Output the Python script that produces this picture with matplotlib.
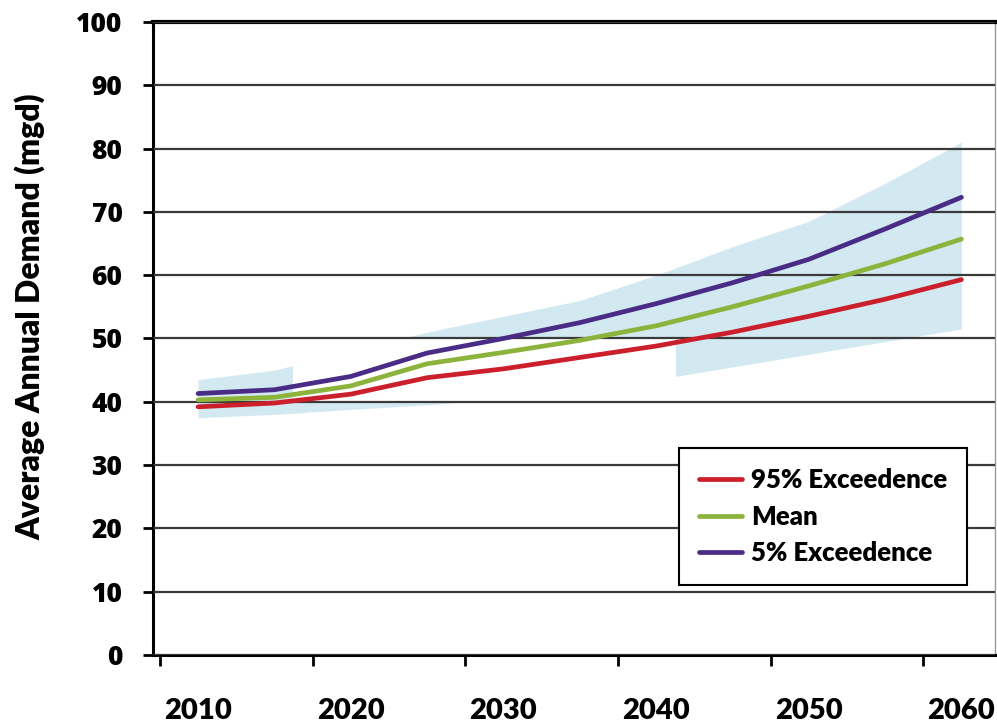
import matplotlib.pyplot as plt

# Projected average annual demand (mgd)
years = [2010, 2015, 2020, 2025, 2030, 2035, 2040, 2045, 2050, 2055, 2060]
exc95 = [39.2, 39.8, 41.2, 43.8, 45.2, 47.0, 48.8, 51.0, 53.5, 56.2, 59.3]
mean = [40.3, 40.7, 42.5, 46.0, 47.8, 49.7, 52.0, 55.0, 58.3, 61.8, 65.7]
exc5 = [41.3, 41.9, 44.0, 47.7, 50.0, 52.5, 55.5, 58.8, 62.5, 67.3, 72.3]

# shaded uncertainty band
band_lo = [37.5, 38.0, 38.8, 39.5, 40.5, 42.0, 43.5, 45.5, 47.5, 49.5, 51.5]
band_hi = [43.5, 45.0, 48.0, 51.0, 53.5, 56.0, 60.0, 64.5, 68.5, 74.5, 81.0]

# white block left over in the scan (covers part of the band)
blank_x = [2016.2, 2041.3]
blank_y = [40.0, 50.3]

series = [
    ("95% Exceedence", exc95, "#cc1f2c"),
    ("Mean", mean, "#8cb33b"),
    ("5% Exceedence", exc5, "#4a2c86"),
]

fig = plt.figure(figsize=(9.97, 7.25), dpi=100)
ax = fig.add_axes([0.1535, 0.0966, 0.8445, 0.8731])

ax.fill_between(years, band_lo, band_hi, color="#d3e9f1", lw=0, zorder=1)
ax.fill_between(blank_x, blank_y[0], blank_y[1], color="white", lw=0, zorder=1.5)

for name, vals, col in series:
    ax.plot(years, vals, color=col, lw=3.4, label=name, zorder=3,
            solid_capstyle="round")

ax.set_xlim(2007.05, 2062.2)
ax.set_ylim(0, 100)

# ticks sit between the labels on the original (category style axis)
ax.set_xticks([y - 2.5 for y in years[::2]])
ax.set_xticklabels([])
ax.set_xticks(years[::2], minor=True)
ax.set_xticklabels([str(y) for y in years[::2]], minor=True,
                   family=["Lato", "DejaVu Sans"], fontweight="heavy", fontsize=21)
ax.tick_params(axis="x", which="major", direction="out", length=8, width=2)
ax.tick_params(axis="x", which="minor", length=0, pad=31)

ax.set_yticks(range(0, 101, 10))
ax.set_yticklabels([str(v) for v in range(0, 101, 10)],
                   family=["Open Sans", "DejaVu Sans"], fontweight="heavy", fontsize=19)
ax.tick_params(axis="y", direction="out", length=7, width=2, pad=15)

ax.set_axisbelow(False)
ax.yaxis.grid(True, color="#3a3a3a", lw=1.6)
ax.xaxis.grid(False)

for s in ["left", "bottom"]:
    ax.spines[s].set_linewidth(2.2)
    ax.spines[s].set_color("black")
ax.spines["top"].set_linewidth(3)
ax.spines["top"].set_color("black")
ax.spines["right"].set_linewidth(1)
ax.spines["right"].set_color("#9a9a9a")

ax.set_ylabel("Average Annual Demand (mgd)",
              family=["Lato", "DejaVu Sans"],
              fontweight="heavy", fontsize=23)
ax.yaxis.set_label_coords(-0.128, 0.534)

leg = ax.legend(loc="lower left", bbox_to_anchor=(0.625, 0.111),
                borderaxespad=0, fancybox=False, framealpha=1,
                edgecolor="black", borderpad=0.75, handlelength=1.7,
                handletextpad=0.35, labelspacing=0.5,
                prop={"family": ["Lato", "DejaVu Sans"], "weight": "heavy", "size": 18.5})
leg.get_frame().set_linewidth(1.5)
leg.set_zorder(5)

fig.savefig("out.png", dpi=100)
